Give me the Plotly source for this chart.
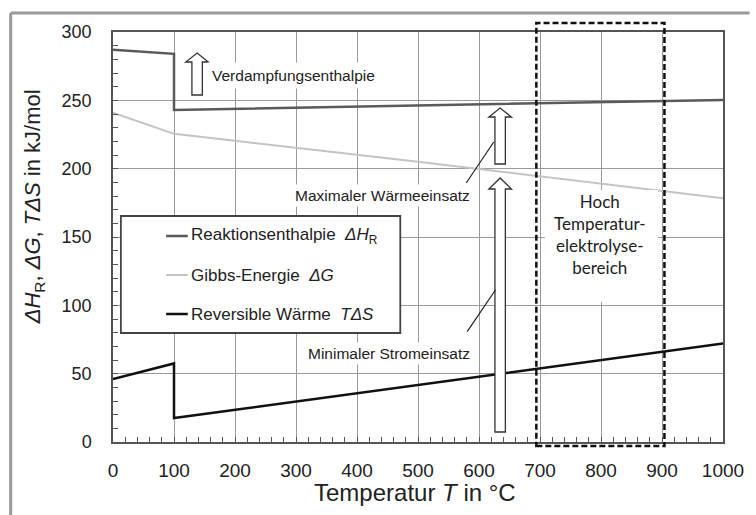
import plotly.graph_objects as go

# ---------------- data ----------------
temperature = [0, 100, 100, 200, 300, 400, 500, 600, 700, 800, 900, 1000]
delta_H = [287, 284, 243, 243.8, 244.6, 245.4, 246.2, 247.0, 247.7, 248.4, 249.2, 250.3]
delta_G = [241, 225.5, 225.5, 220.4, 215.4, 210.2, 205.0, 199.8, 194.5, 189.2, 183.8, 178.3]
T_delta_S = [46, 57.5, 17.5, 23.6, 29.6, 35.7, 41.7, 47.8, 53.8, 59.9, 65.9, 72.0]

series_names = ["Reaktionsenthalpie  <i>ΔH</i><sub>R</sub>",
                "Gibbs-Energie  <i>ΔG</i>",
                "Reversible Wärme  <i>TΔS</i>"]
series_colors = ["#5a5a5a", "#c4c4c4", "#111111"]
series_widths = [2.5, 2, 2.5]

x_ticks = [0, 100, 200, 300, 400, 500, 600, 700, 800, 900, 1000]
y_ticks = [0, 50, 100, 150, 200, 250, 300]

hte_range = [694, 904]          # high temperature electrolysis region (°C)

# ---------------- layout helpers (pixel -> data) ----------------
W, H = 756, 515
PL, PR, PT, PB = 113, 733, 32, 442


def X(px):
    return (px - PL) / (PR - PL) * 1000


def Y(py):
    return (PB - py) / (PB - PT) * 300


def PX(px):
    return (px - PL) / (PR - PL)


def PY(py):
    return (PB - py) / (PB - PT)


FONT = "Arial, Liberation Sans, sans-serif"

fig = go.Figure()
for yv, name, col, w in zip([delta_H, delta_G, T_delta_S], series_names, series_colors, series_widths):
    fig.add_trace(go.Scatter(x=temperature, y=yv, mode="lines", name=name,
                             line=dict(color=col, width=w), showlegend=False))

shapes = []
annotations = []

# outer grey frame (top and left)
shapes.append(dict(type="line", xref="paper", yref="paper", x0=PX(9), x1=PX(760), y0=PY(13), y1=PY(13),
                   line=dict(color="#9a9a9a", width=3), layer="above"))
shapes.append(dict(type="line", xref="paper", yref="paper", x0=PX(9), x1=PX(9), y0=PY(13), y1=PY(520),
                   line=dict(color="#9a9a9a", width=3), layer="above"))

# white background behind the HTE label (hides grid lines)
shapes.append(dict(type="rect", xref="x", yref="y", x0=X(552), x1=X(667), y0=Y(190), y1=Y(302),
                   fillcolor="white", line=dict(width=0), layer="above"))

# hollow arrows: (x centre, y bottom, y head base, y tip) in data units
arrows = [
    (X(198.5), Y(95), Y(62), Y(53)),
    (X(506.5), Y(164), Y(117), Y(108)),
    (X(506.5), Y(432), Y(189), Y(178)),
]
sw = 5.3 / (PR - PL) * 1000
hw = 11.5 / (PR - PL) * 1000
for cx, yb, yh, yt in arrows:
    path = (f"M {cx-sw},{yb} L {cx+sw},{yb} L {cx+sw},{yh} L {cx+hw},{yh} L {cx},{yt} "
            f"L {cx-hw},{yh} L {cx-sw},{yh} Z")
    shapes.append(dict(type="path", path=path, xref="x", yref="y", fillcolor="white",
                       line=dict(color="#333333", width=1.3), layer="above"))

# leader lines
for (x0, y0, x1, y1) in [(500, 142, 472, 183), (501.7, 290, 473, 331.7)]:
    shapes.append(dict(type="line", xref="x", yref="y", x0=X(x0), y0=Y(y0), x1=X(x1), y1=Y(y1),
                       line=dict(color="#222222", width=1.2), layer="above"))

# dashed HTE region (extends a little beyond the plot area)
shapes.append(dict(type="rect", xref="x", yref="paper", x0=hte_range[0], x1=hte_range[1],
                   y0=PY(446), y1=PY(23),
                   line=dict(color="#111111", width=2.5, dash="6px,3px"), layer="above"))

# manual legend
lx0, lx1, ly0, ly1 = 121, 405, 216, 333
shapes.append(dict(type="rect", xref="x", yref="y", x0=X(lx0), x1=X(lx1), y0=Y(ly0), y1=Y(ly1),
                   fillcolor="white", line=dict(color="#444444", width=1.8), layer="above"))
rows = [236, 275, 314]
for ry, name, col, w in zip(rows, series_names, series_colors, series_widths):
    shapes.append(dict(type="line", xref="x", yref="y", x0=X(167), x1=X(189), y0=Y(ry), y1=Y(ry),
                       line=dict(color=col, width=w), layer="above"))
    annotations.append(dict(x=X(190), y=Y(ry), xref="x", yref="y", text=name, showarrow=False,
                            xanchor="left", yanchor="middle", font=dict(family=FONT, size=17, color="#222")))

# text labels
annotations.append(dict(x=X(209), y=Y(75), xref="x", yref="y", text="Verdampfungsenthalpie",
                        showarrow=False, xanchor="left", yanchor="middle", bgcolor="white", borderpad=4,
                        font=dict(family=FONT, size=15.5, color="#222")))
annotations.append(dict(x=X(479), y=Y(195), xref="x", yref="y", text="Maximaler Wärmeeinsatz",
                        showarrow=False, xanchor="right", yanchor="middle", bgcolor="white", borderpad=2,
                        font=dict(family=FONT, size=15.5, color="#222")))
annotations.append(dict(x=X(479), y=Y(353), xref="x", yref="y", text="Minimaler Stromeinsatz",
                        showarrow=False, xanchor="right", yanchor="middle", bgcolor="white", borderpad=2,
                        font=dict(family=FONT, size=15.5, color="#222")))
annotations.append(dict(x=X(608), y=Y(234), xref="x", yref="y",
                        text="Hoch<br>Temperatur-<br>elektrolyse-<br>bereich",
                        showarrow=False, xanchor="center", yanchor="middle",
                        font=dict(family="Lato, Open Sans, sans-serif", size=17, color="#222")))

# axis titles
annotations.append(dict(x=PX(420), y=PY(492), xref="paper", yref="paper",
                        text="Temperatur <i>T</i> in °C", showarrow=False, xanchor="center", yanchor="middle",
                        font=dict(family=FONT, size=24, color="#222")))
annotations.append(dict(x=PX(33), y=PY(207), xref="paper", yref="paper",
                        text="<i>ΔH</i><sub>R</sub>, <i>ΔG</i>, <i>TΔS</i> in kJ/mol", textangle=-90,
                        showarrow=False, xanchor="center", yanchor="middle",
                        font=dict(family=FONT, size=22, color="#222")))

fig.update_layout(
    width=W, height=H,
    margin=dict(l=PL, r=W - PR, t=PT, b=H - PB),
    paper_bgcolor="white", plot_bgcolor="white",
    shapes=shapes, annotations=annotations,
    font=dict(family=FONT, color="#222"),
)
fig.update_xaxes(range=[0, 1000], tickvals=x_ticks, showgrid=True, gridcolor="#9a9a9a", gridwidth=1,
                 showline=True, linecolor="#555555", linewidth=1.5, mirror=True, zeroline=False,
                 ticks="inside", ticklen=5, tickcolor="#555555", ticklabelstandoff=10,
                 tickfont=dict(family=FONT, size=19, color="#222"),
                 minor=dict(dtick=20, ticks="inside", ticklen=5, tickcolor="#555555", showgrid=False))
fig.update_yaxes(range=[0, 300], tickvals=y_ticks, showgrid=True, gridcolor="#9a9a9a", gridwidth=1,
                 showline=True, linecolor="#555555", linewidth=1.5, mirror=True, zeroline=False,
                 ticks="inside", ticklen=5, tickcolor="#555555", ticklabelstandoff=16,
                 tickfont=dict(family=FONT, size=18, color="#222"),
                 minor=dict(dtick=10, ticks="inside", ticklen=5, tickcolor="#555555", showgrid=False))

fig.write_html("out.html", config={"displayModeBar": False},
               post_script="document.body.style.margin='0';")
